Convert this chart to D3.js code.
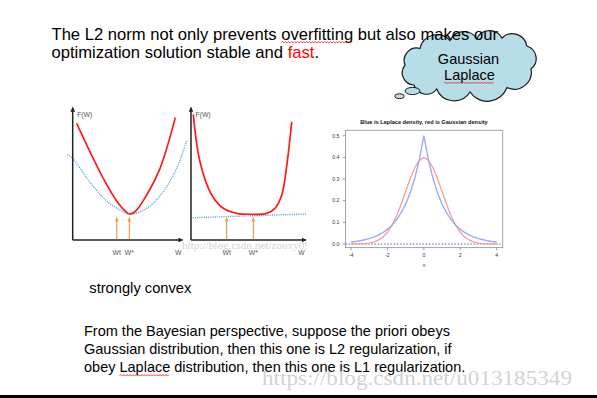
<!DOCTYPE html>
<html><head><meta charset="utf-8">
<script src="https://cdn.jsdelivr.net/npm/d3@7"></script>
<style>html,body{margin:0;padding:0;background:#fff;} svg{display:block;}</style>
</head><body>
<svg id="c" width="597" height="398"></svg>
<script>
// ---------- DATA ----------
const titleLine1 = "The L2 norm not only prevents overfitting but also makes our";
const titleLine2a = "optimization solution stable and ";
const titleLine2b = "fast";
const titleLine2c = ".";
const cloudWords = ["Gaussian", "Laplace"];
const captionText = "strongly convex";
const bottomLines = [
  "From the Bayesian perspective, suppose the priori obeys",
  "Gaussian distribution, then this one is L2 regularization, if",
  "obey Laplace distribution, then this one is L1 regularization."
];
const watermarkMain = "https://blog.csdn.net/u013185349";
const watermarkSmall = "http://blog.csdn.net/zouxy09";

// Left sketch: strongly convex (W, F(W)) in sketch units 0..10
const convexRedW = [0.36, 1.57, 2.78, 4.0, 4.75, 5.15, 5.66, 6.73, 7.94, 9.33];
const convexRedF = [8.84, 6.69, 4.67, 2.95, 2.2, 1.97, 2.14, 3.41, 5.43, 9.27];
const convexBlueW = [-0.49, 0, 1.57, 3.09, 4.3, 5.21, 6.73, 8.24, 9.45, 10.36];
const convexBlueF = [6.49, 6.19, 4.37, 2.95, 2.27, 1.97, 2.40, 3.66, 5.43, 7.5];
const convexArrowW = [4.0, 5.15];
// Right sketch: flat bottom
const flatRedW = [0.2, 0.78, 1.8, 2.81, 3.97, 5.28, 6.58, 7.30, 7.89, 8.37, 8.76];
const flatRedF = [9.52, 5.93, 3.41, 2.40, 2.02, 1.95, 2.02, 2.40, 3.41, 5.93, 8.96];
const flatBlueW = [0.15, 10];
const flatBlueF = [1.69, 1.97];
const flatArrowW = [3.10, 5.42];
const arrowLabels = ["Wt", "W*"];
const axisLabelY = "F(W)";
const axisLabelX = "W";

// Density plot
const densityTitle = "Blue is Laplace density, red is Gaussian density";
const densityX = [-4,-3.75,-3.5,-3.25,-3,-2.75,-2.5,-2.25,-2,-1.75,-1.5,-1.25,-1,-0.75,-0.5,-0.25,0,
                  0.25,0.5,0.75,1,1.25,1.5,1.75,2,2.25,2.5,2.75,3,3.25,3.5,3.75,4];
const laplaceY = [0.0092,0.0118,0.0151,0.0194,0.0249,0.0320,0.0410,0.0527,0.0677,0.0869,0.1116,0.1433,0.1839,0.2362,0.3033,0.3894,0.5,
                  0.3894,0.3033,0.2362,0.1839,0.1433,0.1116,0.0869,0.0677,0.0527,0.0410,0.0320,0.0249,0.0194,0.0151,0.0118,0.0092];
const gaussianY = [0.0001,0.0004,0.0009,0.0020,0.0044,0.0091,0.0175,0.0317,0.0540,0.0863,0.1295,0.1826,0.2420,0.3011,0.3521,0.3867,0.3989,
                   0.3867,0.3521,0.3011,0.2420,0.1826,0.1295,0.0863,0.0540,0.0317,0.0175,0.0091,0.0044,0.0020,0.0009,0.0004,0.0001];
const densityYTicks = [0.0, 0.1, 0.2, 0.3, 0.4, 0.5];
const densityXTicks = [-4, -2, 0, 2, 4];
const densityXLabel = "x";

// ---------- DRAW ----------
const svg = d3.select("#c");
const FONT = "'Liberation Sans', Arial, sans-serif";

function wavy(x1, x2, y) {
  let d = `M${x1},${y}`; let up = true;
  for (let x = x1 + 1.5; x <= x2; x += 1.5) { d += `L${x},${y + (up ? -1 : 0.6)}`; up = !up; }
  svg.append("path").attr("d", d).attr("fill", "none").attr("stroke", "#e02020").attr("stroke-width", 0.8);
}

// Cloud (drawn first so the title sits on top)
const cloudPts = [[405,65],[420,48.5],[450,40.5],[476.7,39],[502,38],[526.7,46],[531,69],[507,87.5],[470,92],[436.7,89],[414,85]];
{
  let d = `M${cloudPts[0][0]},${cloudPts[0][1]}`;
  for (let i = 1; i <= cloudPts.length; i++) {
    const p0 = cloudPts[i - 1], p = cloudPts[i % cloudPts.length];
    const ch = Math.hypot(p[0] - p0[0], p[1] - p0[1]);
    const r = ch * 0.56;
    d += `A${r},${r} 0 0 1 ${p[0]},${p[1]}`;
  }
  d += "Z";
  svg.append("path").attr("d", d).attr("fill", "#b7dde8").attr("stroke", "#1a1a1a").attr("stroke-width", 1.2);
  svg.append("ellipse").attr("cx", 412.5).attr("cy", 91).attr("rx", 7.5).attr("ry", 3.6)
    .attr("fill", "#b7dde8").attr("stroke", "#1a1a1a").attr("stroke-width", 1);
  svg.append("ellipse").attr("cx", 399.5).attr("cy", 96.2).attr("rx", 4.6).attr("ry", 2.4)
    .attr("fill", "#b7dde8").attr("stroke", "#1a1a1a").attr("stroke-width", 1);
}
const cg = svg.append("text").attr("x", 468.5).attr("y", 63.5).attr("text-anchor", "middle")
  .attr("font-family", FONT).attr("font-size", 14.5).text(cloudWords[0]);
const cl = svg.append("text").attr("x", 469.5).attr("y", 80).attr("text-anchor", "middle")
  .attr("font-family", FONT).attr("font-size", 14.5).text(cloudWords[1]);
{
  const b = cl.node().getBBox(); wavy(b.x, b.x + b.width, 83);
}

// Title
const t1 = svg.append("text").attr("x", 51.5).attr("y", 40).attr("font-family", FONT)
  .attr("font-size", 16.6).attr("fill", "#000").text(titleLine1);
const t2 = svg.append("text").attr("x", 51.5).attr("y", 58.3).attr("font-family", FONT)
  .attr("font-size", 16.6).attr("fill", "#000");
t2.append("tspan").text(titleLine2a);
t2.append("tspan").attr("fill", "#ff0000").text(titleLine2b);
t2.append("tspan").text(titleLine2c);
{
  const n = t1.node(); const i = titleLine1.indexOf("overfitting");
  const xa = n.getStartPositionOfChar(i).x, xb = n.getEndPositionOfChar(i + 10).x;
  wavy(xa, xb, 42.5);
}

// Sketch panels
const xL = d3.scaleLinear().domain([0, 10]).range([72.7, 182.7]);
const xR = d3.scaleLinear().domain([0, 10]).range([191, 306]);
const yS = d3.scaleLinear().domain([0, 10]).range([240, 108]);

const defs = svg.append("defs");
defs.append("marker").attr("id", "ah").attr("viewBox", "0 0 10 10").attr("refX", 9).attr("refY", 5)
  .attr("markerWidth", 3.2).attr("markerHeight", 3.2).attr("orient", "auto")
  .append("path").attr("d", "M0,0L10,5L0,10Z").attr("fill", "#222");
defs.append("marker").attr("id", "oa").attr("viewBox", "0 0 10 10").attr("refX", 9).attr("refY", 5)
  .attr("markerWidth", 4).attr("markerHeight", 4).attr("orient", "auto")
  .append("path").attr("d", "M0,1L10,5L0,9L2.5,5Z").attr("fill", "#f29a4f");

function sketch(x, redW, redF, blueW, blueF, arrowW) {
  const g = svg.append("g");
  const line = d3.line().x((d) => x(d[0])).y((d) => yS(d[1])).curve(d3.curveCatmullRom.alpha(0.5));
  g.append("path").attr("d", line(d3.zip(blueW, blueF))).attr("fill", "none")
    .attr("stroke", "#5aa2e0").attr("stroke-width", 1.4).attr("stroke-dasharray", "1.1,1.1");
  g.append("path").attr("d", line(d3.zip(redW, redF))).attr("fill", "none")
    .attr("stroke", "#ff1a1a").attr("stroke-width", 1.7);
  g.append("line").attr("x1", x(0)).attr("y1", yS(0)).attr("x2", x(0)).attr("y2", yS(10) - 0.5)
    .attr("stroke", "#222").attr("stroke-width", 1.5).attr("marker-end", "url(#ah)");
  g.append("line").attr("x1", x(0)).attr("y1", yS(0)).attr("x2", x(10)).attr("y2", yS(0))
    .attr("stroke", "#222").attr("stroke-width", 1.5).attr("marker-end", "url(#ah)");
  arrowW.forEach((w, i) => {
    g.append("line").attr("x1", x(w)).attr("y1", yS(0) - 0.8).attr("x2", x(w)).attr("y2", yS(1.7))
      .attr("stroke", "#f29a4f").attr("stroke-width", 1.2).attr("marker-end", "url(#oa)");
    g.append("text").attr("x", x(w)).attr("y", 254.5).attr("text-anchor", "middle")
      .attr("font-family", FONT).attr("font-size", 6.8).attr("fill", "#555").text(arrowLabels[i]);
  });
  g.append("text").attr("x", x(0) + 4.5).attr("y", 116.5).attr("font-family", FONT)
    .attr("font-size", 6.8).attr("fill", "#555").text(axisLabelY);
  g.append("text").attr("x", x(9.6)).attr("y", 254.5).attr("text-anchor", "middle").attr("font-family", FONT)
    .attr("font-size", 6.8).attr("fill", "#555").text(axisLabelX);
}
sketch(xL, convexRedW, convexRedF, convexBlueW, convexBlueF, convexArrowW);
sketch(xR, flatRedW, flatRedF, flatBlueW, flatBlueF, flatArrowW);

// small watermark over right sketch
defs.append("clipPath").attr("id", "wclip").append("rect").attr("x", 170).attr("y", 235).attr("width", 137).attr("height", 20);
svg.append("text").attr("x", 182).attr("y", 248.5).attr("clip-path", "url(#wclip)")
  .attr("font-family", "'Liberation Serif', serif").attr("font-size", 9.5).attr("fill", "#d2d2d2")
  .attr("textLength", 128).attr("lengthAdjust", "spacingAndGlyphs").text(watermarkSmall);

svg.append("text").attr("x", 89.3).attr("y", 293.3).attr("font-family", FONT)
  .attr("font-size", 14.7).text(captionText);

// Density plot
const dx = d3.scaleLinear().domain([-4, 4]).range([351, 496.7]);
const dy = d3.scaleLinear().domain([0, 0.5]).range([244, 135.7]);
const box = { l: 345.5, r: 502.7, t: 130.3, b: 247.6 };
const dg = svg.append("g");
dg.append("text").attr("x", 424).attr("y", 123.8).attr("text-anchor", "middle").attr("font-family", FONT)
  .attr("font-weight", "bold").attr("font-size", 5.6).attr("fill", "#111").text(densityTitle);
dg.append("line").attr("x1", box.l).attr("x2", box.r).attr("y1", dy(0)).attr("y2", dy(0))
  .attr("stroke", "#5560a8").attr("stroke-width", 0.9).attr("stroke-dasharray", "1.6,1.6");
const dline = d3.line().x((d) => dx(d[0])).y((d) => dy(d[1]));
dg.append("path").attr("d", dline(d3.zip(densityX, gaussianY))).attr("fill", "none")
  .attr("stroke", "#f2a0a0").attr("stroke-width", 1.3);
dg.append("path").attr("d", dline(d3.zip(densityX, laplaceY))).attr("fill", "none")
  .attr("stroke", "#9eaaf6").attr("stroke-width", 1.4);
dg.append("rect").attr("x", box.l).attr("y", box.t).attr("width", box.r - box.l).attr("height", box.b - box.t)
  .attr("fill", "none").attr("stroke", "#9a9a9a").attr("stroke-width", 0.9);
densityYTicks.forEach((v) => {
  dg.append("line").attr("x1", box.l - 2.8).attr("x2", box.l).attr("y1", dy(v)).attr("y2", dy(v))
    .attr("stroke", "#777").attr("stroke-width", 0.7);
  dg.append("text").attr("x", 339.5).attr("y", dy(v) + 1.8).attr("text-anchor", "end").attr("font-family", FONT)
    .attr("font-size", 5.2).attr("fill", "#333").text(d3.format(".1f")(v));
});
densityXTicks.forEach((v) => {
  dg.append("line").attr("x1", dx(v)).attr("x2", dx(v)).attr("y1", box.b).attr("y2", box.b + 2.8)
    .attr("stroke", "#777").attr("stroke-width", 0.7);
  dg.append("text").attr("x", dx(v)).attr("y", 257.2).attr("text-anchor", "middle").attr("font-family", FONT)
    .attr("font-size", 5.2).attr("fill", "#333").text(String(v));
});
dg.append("text").attr("x", 424).attr("y", 267).attr("text-anchor", "middle").attr("font-family", FONT)
  .attr("font-size", 5.2).attr("fill", "#333").text(densityXLabel);

// Bottom paragraph
const bt = [];
bottomLines.forEach((s, i) => {
  bt.push(svg.append("text").attr("x", 84).attr("y", 336 + i * 18).attr("font-family", FONT)
    .attr("font-size", 14.5).text(s));
});
{
  const n = bt[2].node(); const i = bottomLines[2].indexOf("Laplace");
  wavy(n.getStartPositionOfChar(i).x, n.getEndPositionOfChar(i + 6).x, 375.5);
}

// main watermark
svg.append("text").attr("x", 262).attr("y", 384.5).attr("font-family", "'Liberation Serif', serif")
  .attr("font-size", 20).attr("fill", "#cdcdcd").attr("fill-opacity", 0.9)
  .attr("textLength", 310).attr("lengthAdjust", "spacingAndGlyphs").text(watermarkMain);

// bottom rule
svg.append("rect").attr("x", 0).attr("y", 395).attr("width", 597).attr("height", 3).attr("fill", "#000");
</script>
</body></html>
